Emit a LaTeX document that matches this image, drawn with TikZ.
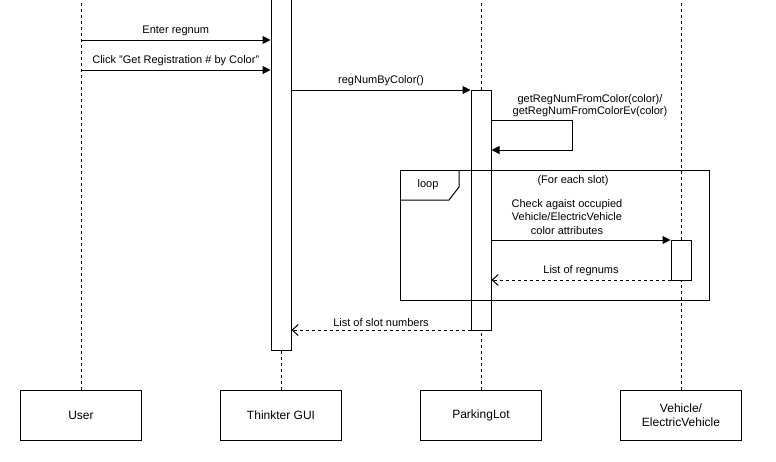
\documentclass[tikz,border=0pt]{standalone}
\usepackage{fontspec}
\setmainfont{Liberation Sans}
\usepackage{tikz}
\usetikzlibrary{arrows.meta}
\tikzstyle{lifehead}=[draw, line width=1pt, fill=white, minimum width=121pt, minimum height=50pt, align=center, font=\fontsize{12}{14}\selectfont]
\tikzstyle{activation}=[draw, line width=1pt, fill=white, minimum width=20pt, inner sep=0pt, anchor=north]
\tikzstyle{lifeline}=[line width=1pt, dash pattern=on 3pt off 3pt]
\tikzstyle{call}=[line width=1pt, -{Triangle[length=8pt,width=8pt]}]
\tikzstyle{reply}=[line width=1pt, dash pattern=on 3pt off 3pt, -{Straight Barb[length=6pt,width=11pt]}]

\begin{document}
\begin{tikzpicture}[x=1pt, y=-1pt, every node/.style={font=\fontsize{11}{13}\selectfont}]
	\useasboundingbox[fill=white] (0,0) rectangle (776,461);
	\coordinate (top) at (0,0);
	% heads
	\node[lifehead] (user) at (81,415) {User};
	\node[lifehead] (gui) at (281,415) {Thinkter GUI};
	\node[lifehead] (lot) at (481,415) {ParkingLot};
	\node[lifehead] (veh) at (681,415) {Vehicle/\\ElectricVehicle};
	% lifelines
	\draw[lifeline] (user.north) -- (user.north |- top);
	\draw[lifeline] (gui.north) -- (gui.north |- top);
	\draw[lifeline] (lot.north) -- (lot.north |- top);
	\draw[lifeline] (veh.north) -- (veh.north |- top);
	% activations
	\node[activation, minimum height=356pt] (guiact) at (281,-6) {};
	\node[activation, minimum height=240pt] (lotact) at (481,90) {};
	\node[activation, minimum height=40pt] (vehact) at (681,240) {};
	% loop frame
	\draw[line width=1pt] (400,170) rectangle (709,300);
	\draw[line width=1pt] (400,200) -- (449,200) -- (459,187) -- (459,170);
	\node at (428,185) {loop};
	\node at (573,181) {(For each slot)};
	% messages
	\draw[call] (user.north |- 0,40) -- (guiact.west |- 0,40) node[midway, above] {Enter regnum};
	\draw[call] (user.north |- 0,70) -- (guiact.west |- 0,70) node[midway, above] {Click "Get Registration \# by Color"};
	\draw[call] (guiact.east |- 0,90) -- (lotact.west |- 0,90) node[midway, above] {regNumByColor()};
	\draw[call] (lotact.east |- 0,120) -- (572,120) |- (lotact.east |- 0,150);
	\node[align=center, font=\fontsize{11}{12}\selectfont] (selflbl) at (590,106) {getRegNumFromColor(color)/\\getRegNumFromColorEv(color)};
	\draw[call] (lotact.east |- 0,240) -- (vehact.west |- 0,240);
	\node[align=center, font=\fontsize{11}{13.5}\selectfont] (checklbl) at (567,217) {Check agaist occupied\\Vehicle/ElectricVehicle\\color attributes};
	\draw[reply] (vehact.west |- 0,280) -- (lotact.east |- 0,280) node[midway, above] {List of regnums};
	\draw[reply] (lotact.west |- 0,330) -- (guiact.east |- 0,330) node[midway, above] {List of slot numbers};
\end{tikzpicture}
\end{document}
